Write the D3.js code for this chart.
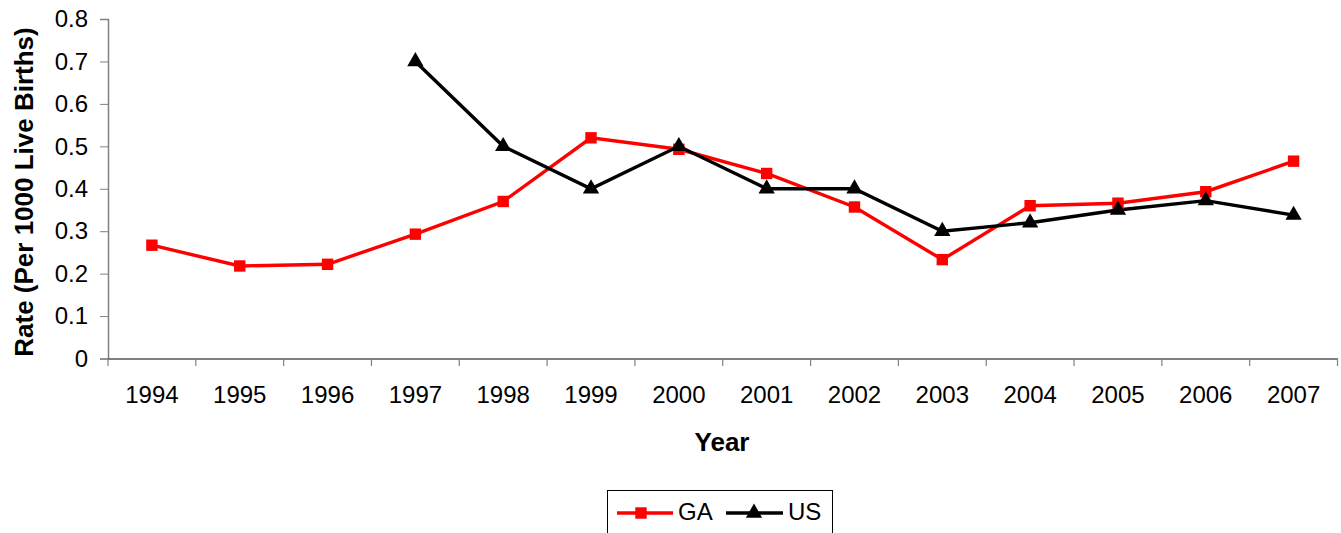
<!DOCTYPE html>
<html><head><meta charset="utf-8">
<script src="https://cdn.jsdelivr.net/npm/d3@7"></script>
<style>body{margin:0;background:#fff}text{font-family:"Liberation Sans",Arial,sans-serif}</style>
</head><body><svg id="c" width="1341" height="533"></svg>
<script>
const years = ["1994","1995","1996","1997","1998","1999","2000","2001","2002","2003","2004","2005","2006","2007"];
const gaValues = [0.267,0.218,0.222,0.293,0.370,0.520,0.493,0.436,0.357,0.233,0.360,0.366,0.393,0.465];
const usValues = [null,null,null,0.70,0.50,0.40,0.50,0.40,0.40,0.30,0.32,0.35,0.372,0.338];
const yTicks = [0,0.1,0.2,0.3,0.4,0.5,0.6,0.7,0.8];

const svg = d3.select("#c");
const x = d3.scaleBand().domain(years).range([108,1337.5]);
const y = d3.scaleLinear().domain([0,0.8]).range([358.5,19]);

// axes
const ya = svg.append("g").attr("transform","translate(108,0)")
  .call(d3.axisLeft(y).tickValues(yTicks).tickSize(8).tickPadding(12).tickFormat(d=>d===0?"0":d3.format(".1f")(d)));
ya.select(".domain").attr("stroke","#808080").attr("stroke-width",1.5);
ya.selectAll(".tick line").attr("stroke","#808080");
ya.selectAll("text").attr("font-size",24).attr("fill","#000").style("font-family","Liberation Sans, Arial");

const xa = svg.append("g").attr("transform","translate(0,358.5)")
  .call(d3.axisBottom(x).tickSize(0).tickPadding(27));
xa.select(".domain").attr("stroke","#000").attr("stroke-width",1.2);
xa.selectAll("text").attr("font-size",24).attr("fill","#000").style("font-family","Liberation Sans, Arial");
// category separator ticks
const bounds = years.map(d=>x(d)).concat([x.range()[1]]);
svg.append("g").selectAll("line").data(bounds).join("line")
  .attr("x1",d=>d).attr("x2",d=>d).attr("y1",358.5).attr("y2",366)
  .attr("stroke","#808080").attr("stroke-width",1.2);

// titles
svg.append("text").attr("transform","translate(33,192) rotate(-90)").attr("text-anchor","middle")
  .attr("font-size",26).attr("font-weight","bold").text("Rate (Per 1000 Live Births)");
svg.append("text").attr("x",722).attr("y",451).attr("text-anchor","middle")
  .attr("font-size",26).attr("font-weight","bold").text("Year");

const cx = d=>x(d)+x.bandwidth()/2;
const line = d3.line().defined(d=>d[1]!=null).x(d=>cx(d[0])).y(d=>y(d[1]));
const gaPts = years.map((d,i)=>[d,gaValues[i]]);
const usPts = years.map((d,i)=>[d,usValues[i]]).filter(d=>d[1]!=null);

svg.append("path").attr("d",line(gaPts)).attr("fill","none").attr("stroke","#ff0000").attr("stroke-width",3.4);
svg.append("path").attr("d",line(usPts)).attr("fill","none").attr("stroke","#000").attr("stroke-width",3.4);

const sq = d3.symbol().type(d3.symbolSquare).size(130);
const tri = d3.symbol().type(d3.symbolTriangle).size(115);
svg.append("g").selectAll("path").data(gaPts).join("path")
  .attr("transform",d=>`translate(${cx(d[0])},${y(d[1])})`).attr("d",sq).attr("fill","#ff0000");
svg.append("g").selectAll("path").data(usPts).join("path")
  .attr("transform",d=>`translate(${cx(d[0])},${y(d[1])})`).attr("d",tri).attr("fill","#000");

// legend
const lg = svg.append("g");
lg.append("rect").attr("x",607.5).attr("y",490.5).attr("width",225).attr("height",50).attr("fill","#fff").attr("stroke","#000").attr("stroke-width",1);
lg.append("line").attr("x1",617).attr("x2",673).attr("y1",513).attr("y2",513).attr("stroke","#ff0000").attr("stroke-width",3.4);
lg.append("path").attr("transform","translate(641,513)").attr("d",sq).attr("fill","#ff0000");
lg.append("text").attr("x",678).attr("y",520).attr("font-size",24).text("GA");
lg.append("line").attr("x1",726).attr("x2",783).attr("y1",513).attr("y2",513).attr("stroke","#000").attr("stroke-width",3.4);
lg.append("path").attr("transform","translate(754,513)").attr("d",tri).attr("fill","#000");
lg.append("text").attr("x",788).attr("y",520).attr("font-size",24).text("US");
</script></body></html>
